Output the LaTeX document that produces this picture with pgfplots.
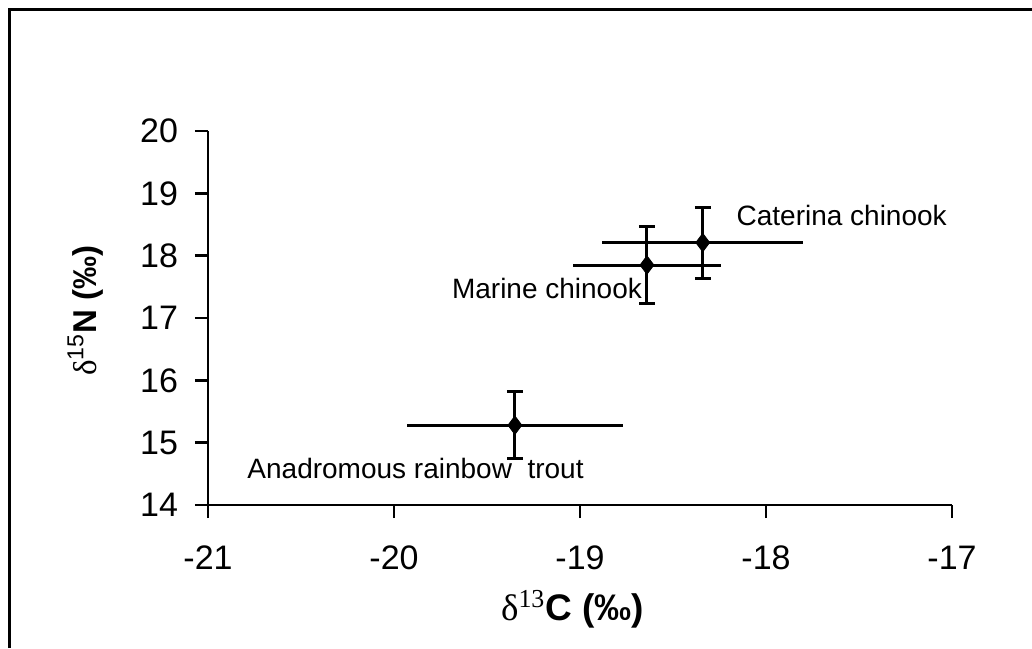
\documentclass[border=0pt]{standalone}
\usepackage{pgfplots}
\pgfplotsset{compat=1.18}
\usepackage{pgfplotstable}
\usepackage{fontspec}
\setmainfont{Liberation Sans}
\newfontfamily\serif{Liberation Serif}

% x, y, x error, y error
\pgfplotstableread{
x       y      ex    ey
-18.34  18.21  0.54  0.57
-18.64  17.85  0.40  0.61
-19.35  15.28  0.58  0.54
}\isodata

\begin{document}
\begin{tikzpicture}
\path[use as bounding box] (-104pt,-71.5pt) rectangle (412pt,252.5pt);
\draw[line width=1.5pt] (-99pt,-71.5pt) -- (-99pt,247.5pt) -- (412pt,247.5pt);
\begin{axis}[
    scale only axis,
    width=372pt, height=187pt,
    xmin=-21, xmax=-17, ymin=14, ymax=20,
    xtick={-21,-20,...,-17}, ytick={14,15,...,20},
    axis x line=bottom, axis y line=left,
    axis line style={-, line width=1.3pt},
    tick align=outside, major tick length=6.5pt,
    tick style={line width=1.3pt, black},
    every tick label/.append style={font=\fontsize{17}{20}\selectfont},
    xticklabel style={yshift=-10.5pt},
    yticklabel style={xshift=-5pt},
    /pgf/number format/assume math mode=true,
    xlabel={{\serif δ\textsuperscript{13}}\textbf{C (‰)}},
    ylabel={{\serif δ}\textsuperscript{15}\textbf{N (‰)}},
    xlabel style={font=\fontsize{18.5}{21}\selectfont,
        at={(axis description cs:0.49,-0.3075)}, anchor=base},
    ylabel style={font=\fontsize{16.5}{19}\selectfont,
        at={(axis description cs:-0.165,0.52)}, anchor=center, rotate=0},
    clip=false,
]
\addplot[draw=none, forget plot,
    error bars/.cd, x dir=both, x explicit, error mark=none,
    error bar style={line width=1.5pt, black}]
    table[x=x, y=y, x error=ex] {\isodata};
\addplot[only marks, mark=diamond*, mark size=4.6pt, black,
    error bars/.cd, y dir=both, y explicit,
    error mark options={rotate=90, mark size=4pt, line width=1.5pt},
    error bar style={line width=1.5pt, black}]
    table[x=x, y=y, y error=ey] {\isodata};
\node[anchor=base west, font=\fontsize{14}{17}\selectfont, inner sep=0pt] at (axis cs:-18.16,18.49) {Caterina chinook};
\node[anchor=base west, font=\fontsize{14}{17}\selectfont, inner sep=0pt] at (axis cs:-19.69,17.32) {Marine chinook};
\node[anchor=base west, font=\fontsize{14}{17}\selectfont, inner sep=0pt] at (axis cs:-20.79,14.43) {Anadromous rainbow\ \ trout};
\end{axis}
\end{tikzpicture}
\end{document}
